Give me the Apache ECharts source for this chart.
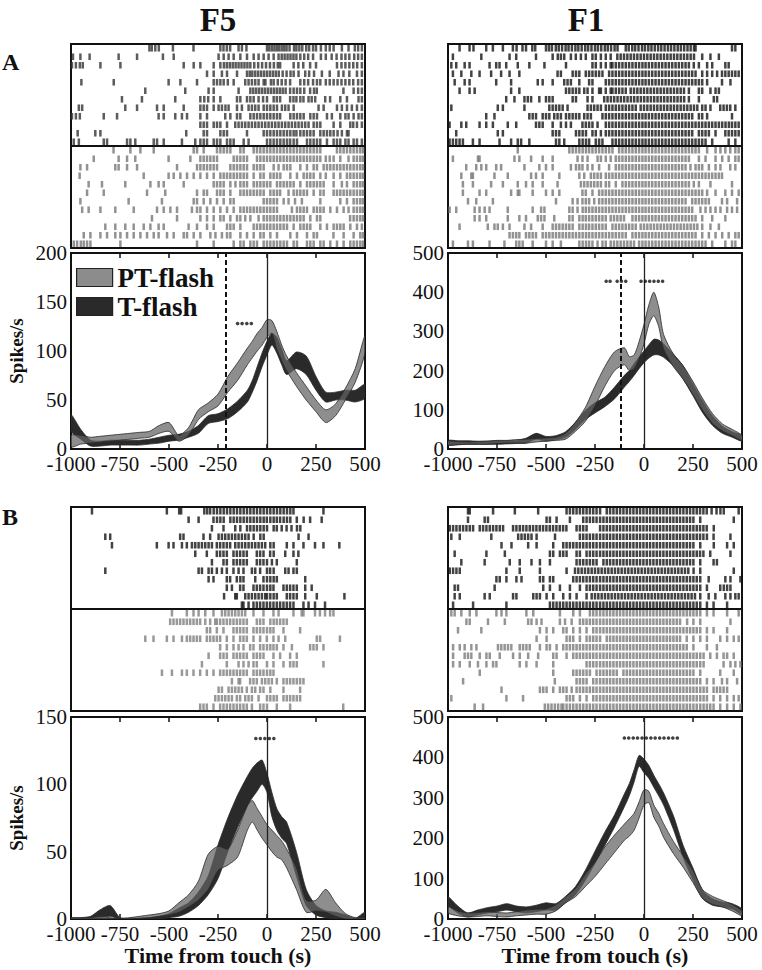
<!DOCTYPE html>
<html><head><meta charset="utf-8">
<script src="https://cdn.jsdelivr.net/npm/echarts@6/dist/echarts.min.js"></script>
<style>html,body{margin:0;padding:0;background:#fff}#c{width:762px;height:970px}</style>
</head><body><div id="c"></div>
<script>
// ---------- DATA ----------
const xTicks = [-1000, -750, -500, -250, 0, 250, 500];
const timeGrid = [-1000,-950,-900,-850,-800,-750,-700,-650,-600,-550,-500,-450,-400,-350,-300,-250,-200,-150,-100,-75,-50,-25,0,25,50,75,100,150,200,250,300,350,400,450,500];

// PSTH bands (lower / upper edge, spikes/s)
const F5A_PT_lo = [2,5,6,7,8,9,10,11,12,16,18,8,14,30,38,44,58,70,86,93,100,106,114,118,102,90,80,64,50,38,27,34,50,68,98];
const F5A_PT_hi = [14,14,12,13,14,15,16,17,18,24,27,14,22,40,47,56,74,88,103,110,118,124,132,131,120,106,95,78,64,50,40,46,62,82,116];
const F5A_T_lo  = [18,10,3,3,4,4,4,4,5,6,8,9,12,16,26,28,31,38,48,58,70,84,96,106,98,86,76,82,76,60,48,50,50,48,52];
const F5A_T_hi  = [35,20,9,8,9,9,9,9,10,12,14,15,18,24,34,36,41,49,60,70,84,98,110,118,114,102,90,99,95,74,58,58,60,60,66];

const F1A_PT_lo = [10,11,12,12,12,14,15,15,15,18,20,22,25,45,70,110,160,200,215,200,205,230,268,318,340,312,255,210,178,138,98,65,46,34,22];
const F1A_PT_hi = [20,19,18,19,20,22,22,24,25,27,28,30,40,68,105,160,210,248,258,236,240,274,318,368,400,362,292,242,212,172,128,90,64,50,35];
const F1A_T_lo  = [10,11,12,12,12,12,13,14,15,25,20,24,30,50,75,92,108,128,158,172,188,205,220,232,240,240,234,212,178,136,92,60,40,30,20];
const F1A_T_hi  = [22,21,21,20,20,21,21,22,28,40,32,34,44,68,98,118,132,158,188,200,218,235,250,266,280,278,268,242,212,166,122,84,58,44,34];

const F5B_PT_lo = [0,0,0,0,0,0,0,0.5,1,2,3,5,9,14,22,36,40,46,66,72,66,60,55,50,46,44,38,22,5,6,5,2,0,0,0];
const F5B_PT_hi = [1,1,1,2,1,0.5,1,2,3,4,6,12,18,28,48,54,52,66,84,88,82,76,70,66,62,58,52,38,14,14,22,12,4,1,1];
const F5B_T_lo  = [0,0,0,1,2,0,0,0,0,0,1,2,5,10,18,30,50,68,84,90,95,100,94,76,66,60,56,32,10,3,1,0,0,0,0];
const F5B_T_hi  = [0.5,1,2,7,10,1,0.5,0.5,1,2,4,8,12,20,32,55,75,92,106,112,116,118,108,94,82,76,72,50,22,10,6,5,3,0.5,5];

const F1B_PT_lo = [15,8,5,6,8,6,5,8,10,12,12,20,40,55,80,105,135,165,195,205,220,250,282,288,252,230,202,162,128,90,50,36,30,20,8];
const F1B_PT_hi = [30,20,15,16,18,16,15,18,22,24,25,35,55,75,110,140,178,208,235,248,262,290,320,316,282,262,236,192,156,120,72,56,46,36,20];
const F1B_T_lo  = [35,15,5,10,15,18,22,18,15,18,22,22,40,60,95,138,182,228,278,305,340,378,362,348,326,305,282,222,152,96,50,34,30,25,12];
const F1B_T_hi  = [55,32,15,22,28,32,38,32,30,34,40,38,56,80,120,168,215,258,310,335,370,405,396,380,356,335,312,256,182,126,70,50,42,38,25];

// significance markers (times, ms) and their height
const sigF5A_t = [-150,-127,-103,-80];            const sigF5A_y = 128;
const sigF1A_t = [-193,-173,-137,-115,-93,-15,7,29,51,73,95]; const sigF1A_y = 428;
const sigF5B_t = [-57,-34,-11,12,35];             const sigF5B_y = 134;
const sigF1B_t = [-100,-78,-55,-33,-10,12,35,57,80,102,125,147,170]; const sigF1B_y = 448;
const dashF5A = -208;
const dashF1A = -118;

// rasters: spike times (ms) per trial; T-flash (top block) and PT-flash (bottom block)
const rasterF5A_T = [
[-600,-588,-570,-552,-480,-375,-238,-222,-205,-188,-145,-128,-105,0,12,25,38,50,62,75,88,100,115,138,150,165,180,200,215,235,250,275,300,320,340,382,416,448,465,484],
[-990,-952,-905,-757,-663,-531,-476,-247,-221,-196,-170,-136,-102,-68,-43,-17,8,34,59,75,90,105,120,135,150,170,190,210,235,275,300,330,355,380,400,420,445,465,484],
[-995,-975,-955,-940,-850,-748,-425,-374,-340,-272,-238,-220,-205,-190,-175,-160,-145,-130,-115,-100,-85,-65,-45,-25,-5,15,35,55,67,136,160,185,220,250,357,380,400,420,440,460,484],
[-306,-272,-230,-204,-153,-102,-88,-75,-60,-45,-30,-15,0,15,30,45,60,80,100,120,136,161,195,215,240,280,320,365,390,420,459,484],
[-947,-782,-502,-442,-357,-272,-255,-238,-221,-200,-170,-111,-94,-77,-60,-43,-17,-8,20,34,55,75,95,118,170,190,210,235,255,272,300,320,340,360,380,400,420,440,465,484],
[-621,-417,-298,-272,-145,-85,-70,-55,-40,-25,-10,5,20,35,50,65,80,95,118,136,153,170,190,220,240,254,390,442,465,484],
[-740,-638,-468,-340,-320,-300,-272,-238,-153,-136,-102,-85,-68,-43,-20,0,34,50,67,118,135,150,170,186,212,228,246,297,322,374,408,467,484],
[-960,-943,-723,-663,-561,-527,-425,-340,-323,-306,-272,-247,-230,-212,-196,-153,-128,-94,-77,-60,-43,-17,0,17,34,51,76,93,110,136,263,289,357,382,408,433,459,484],
[-995,-975,-955,-833,-765,-553,-527,-468,-434,-408,-340,-306,-213,-187,-153,-136,-85,-68,-51,-34,-17,0,17,34,51,67,119,136,153,170,187,221,238,255,306,331,374,400,416,442,467,484],
[-340,-323,-306,-272,-255,-238,-204,-162,-145,-128,-111,-94,-77,-60,-43,-26,-9,8,25,42,59,76,93,110,127,144,161,178,195,212,238,255,272,340,374,425,440,459,484],
[-966,-876,-850,-412,-323,-306,-238,-221,-204,-102,-17,0,17,34,51,68,85,102,119,136,150,170,187,204,221,238,272,289,306,323,340,360,382,408,416],
[-986,-960,-833,-816,-714,-697,-672,-578,-561,-527,-434,-366,-340,-323,-306,-272,-255,-238,-204,-187,-170,-119,-94,0,17,34,51,68,85,102,118,136,153,204,221,238,255,272,306,340,357,374,400,416,442,459,484]
];
const rasterF5A_PT = [
[-783,-697,-646,-578,-374,-357,-323,-255,-238,-221,-204,-187,-136,-119,-68,-51,-34,-17,0,17,34,51,68,85,102,119,136,153,170,187,204,221,238,255,272,357,374,391,408,425,442,459,476,490],
[-884,-757,-714,-672,-502,-391,-340,-323,-306,-289,-272,-255,-170,-153,-136,-119,-102,-51,-34,-17,0,17,34,51,68,85,102,119,136,153,170,187,204,221,238,255,272,300,320,340,374,416,442,459,476,490],
[-952,-918,-774,-757,-714,-663,-459,-357,-340,-323,-306,-289,-272,-255,-187,-170,-153,-136,-119,-102,-68,-51,-34,-17,34,59,85,102,119,170,204,238,255,289,306,323,340,357,374,391,408,425,442,459,476,490],
[-956,-629,-502,-476,-442,-408,-374,-340,-306,-272,-238,-221,-204,-187,-170,-153,-136,-119,-102,-68,-34,-17,17,34,51,68,119,153,187,204,221,238,272,300,340,374,408,425,442,459,476,490],
[-910,-842,-723,-595,-553,-527,-425,-272,-255,-238,-221,-187,-161,-136,-119,-102,-68,-51,-34,-17,0,17,51,68,85,102,119,136,170,204,221,238,255,272,289,340,382,408,442,459,476,490],
[-918,-833,-612,-519,-357,-323,-306,-255,-238,-221,-187,-136,-119,-102,-85,-68,-51,-34,-17,17,34,51,67,110,136,153,170,187,204,238,272,289,340,357,374,391,408,425,442,459,476,490],
[-952,-706,-536,-374,-357,-323,-289,-255,-221,-187,-170,-17,0,17,34,51,85,110,143,178,272,374,408,442,459,476,490],
[-943,-910,-850,-774,-680,-561,-527,-493,-459,-383,-357,-340,-306,-272,-238,-204,-170,-136,-119,-102,-85,-68,-51,-34,-17,0,17,34,51,127,153,170,187,204,238,255,272,289,323,357,391,416,442,459,476,490],
[-587,-459,-340,-306,-272,-238,-221,-187,-153,-136,-111,-85,-43,-17,0,17,34,51,68,85,102,119,136,153,170,187,221,255,272,424,442,459,476,490],
[-825,-774,-723,-680,-629,-595,-553,-527,-400,-357,-306,-272,-204,-187,-170,-136,-68,-51,-34,-17,0,17,34,51,68,85,102,136,170,187,204,221,272,306,340,357,374,391,425,459,484],
[-935,-901,-850,-816,-774,-748,-714,-680,-646,-612,-578,-553,-510,-476,-425,-408,-374,-340,-289,-263,-230,-204,-187,-136,-102,-68,-34,-17,17,51,119,153,204,238,255,339,391,442,476,490],
[-986,-969,-950,-935,-918,-901,-748,-357,-272,-170,-136,-119,-85,-68,-51,-17,0,17,34,51,68,85,102,136,153,204,221,238,272,289,323,357,391,425,442,459,476,490]
];
const rasterF1A_T = [
[-941,-890,-870,-805,-771,-720,-669,-650,-620,-602,-570,-555,-500,-485,-470,-450,-435,-418,-400,-385,-368,-350,-335,-318,-300,-285,-268,-250,-235,-218,-200,-185,-168,-150,-135,-93,-78,-60,-45,-28,-10,5,22,38,55,72,88,105,122,138,155,172,188,205,222,238,255,263,449,466],
[-975,-830,-686,-652,-551,-466,-440,-424,-407,-373,-348,-322,-297,-263,-246,-220,-195,-170,-136,-119,-102,-85,-68,-51,-34,-17,0,17,34,51,68,85,102,119,136,153,170,187,204,221,238,255,297,339,382],
[-983,-958,-915,-890,-788,-754,-737,-703,-644,-585,-508,-398,-263,-246,-220,-195,-170,-161,-144,-127,-110,-93,-76,-59,-42,-25,-8,8,25,42,59,76,93,110,127,144,161,178,195,212,229,254,280,322,348,415,432],
[-975,-932,-881,-839,-780,-729,-686,-636,-441,-424,-364,-347,-330,-297,-280,-263,-246,-229,-212,-178,-161,-144,-127,-110,-93,-76,-59,-42,-25,-8,8,25,42,59,76,93,110,127,144,161,178,195,212,229,246,263,297,322,348,373,398,415,432,449,466,483],
[-966,-915,-890,-754,-678,-542,-517,-466,-407,-390,-373,-330,-280,-263,-195,-178,-161,-144,-127,-110,-93,-76,-59,-42,-25,-8,8,25,42,59,76,93,110,127,144,161,178,195,212,229,246,263,280,297,322,398,441],
[-941,-890,-864,-678,-636,-398,-381,-364,-347,-330,-305,-288,-263,-229,-220,-195,-170,-161,-144,-127,-110,-93,-68,-51,-34,-17,0,17,34,51,68,85,102,119,136,153,170,187,204,229,280,297,339,365,382],
[-703,-661,-610,-593,-576,-534,-500,-483,-466,-364,-347,-288,-263,-203,-186,-169,-152,-135,-118,-101,-84,-67,-50,-33,-16,1,18,35,52,69,86,103,120,137,154,171,188,205,229,280,356,373],
[-983,-746,-720,-610,-483,-466,-449,-432,-415,-390,-288,-271,-254,-237,-220,-195,-178,-161,-144,-127,-110,-93,-76,-59,-42,-17,0,17,34,51,68,85,102,119,136,153,170,187,204,221,238,255,272,297,314,339,389,406,423,440,466],
[-805,-763,-585,-568,-551,-517,-500,-483,-458,-441,-424,-398,-381,-364,-347,-330,-305,-288,-271,-212,-195,-178,-161,-144,-127,-110,-93,-76,-59,-42,-25,-8,8,25,42,59,76,93,110,127,144,161,178,195,212,229,246,280,297,322,449],
[-992,-932,-907,-839,-805,-771,-695,-652,-551,-534,-517,-466,-424,-398,-373,-314,-297,-280,-263,-237,-195,-178,-161,-144,-127,-110,-93,-76,-59,-42,-25,-8,8,25,42,59,76,93,110,127,144,161,178,195,212,229,246,263,280,297,314,331,348,365,382,399,416,433,449,466,483],
[-958,-746,-720,-466,-449,-432,-347,-330,-313,-296,-263,-246,-220,-195,-178,-161,-144,-127,-110,-93,-76,-59,-42,-25,-8,8,25,42,59,76,93,110,127,144,161,178,195,212,229,246,280,297,314,331,365,415,432,449,466,483],
[-992,-975,-958,-941,-924,-873,-839,-737,-678,-644,-627,-585,-449,-432,-407,-330,-313,-296,-280,-246,-229,-212,-161,-144,-127,-110,-93,-76,-59,-42,-25,-8,8,25,42,59,76,93,110,127,144,161,178,195,212,229,246,263,280,297,314,348,432,466]
];
const rasterF1A_PT = [
[-644,-381,-364,-347,-330,-313,-296,-280,-263,-246,-229,-212,-195,-178,-161,-127,-110,-93,-76,-59,-42,-25,-8,8,25,42,59,76,93,110,127,144,161,178,195,212,229,246,263,280,322,365,390,415,440,466,483],
[-975,-847,-839,-661,-636,-576,-517,-466,-339,-314,-288,-237,-220,-195,-170,-144,-127,-110,-93,-76,-59,-42,-25,-8,8,25,42,59,76,93,110,127,144,161,178,195,212,229,280,314,365,399,432,466,483],
[-907,-856,-830,-805,-754,-729,-610,-534,-500,-466,-373,-347,-330,-314,-288,-263,-229,-178,-144,-127,-110,-93,-76,-59,-42,-25,-8,8,25,42,59,76,93,110,127,144,161,178,195,212,237,263,280,297,331,365,390,440,466],
[-932,-881,-873,-763,-695,-576,-551,-517,-432,-330,-305,-271,-254,-237,-220,-195,-178,-161,-144,-127,-110,-93,-76,-59,-42,-25,-8,8,25,42,59,76,93,110,127,144,161,178,195,212,229,246,263,280,297,314,331,348,365,382,398],
[-924,-873,-780,-720,-644,-602,-568,-517,-441,-322,-305,-288,-271,-254,-237,-220,-195,-178,-144,-110,-93,-76,-59,-42,-25,-8,8,25,42,59,76,93,110,127,144,161,178,195,212,229,254,280,339,449],
[-924,-839,-805,-678,-644,-636,-568,-500,-466,-432,-314,-297,-263,-229,-212,-195,-178,-161,-144,-127,-110,-93,-76,-59,-42,-25,-8,8,25,42,59,76,93,110,127,144,161,178,195,212,229,246,263,280,297,322,365,415,449,483],
[-898,-856,-771,-449,-364,-339,-314,-297,-280,-254,-229,-212,-195,-178,-161,-144,-127,-110,-93,-76,-59,-42,-25,-8,8,25,42,59,76,93,110,127,144,161,178,195,212,246,263,280,297,314,331,398,424,475],
[-992,-958,-864,-839,-813,-788,-695,-568,-525,-508,-381,-364,-339,-313,-297,-280,-263,-246,-229,-212,-195,-178,-161,-144,-127,-110,-93,-76,-59,-42,-25,-8,8,25,42,59,76,93,110,127,144,161,178,195,212,229,246,288,314,339,365,390,424,449,475],
[-864,-839,-805,-695,-636,-602,-542,-525,-508,-458,-381,-364,-330,-313,-297,-280,-263,-246,-229,-212,-195,-170,-153,-136,-119,-102,-59,-42,-25,-8,8,25,42,59,76,93,110,127,144,161,178,195,212,229,246,263,297,348,415],
[-941,-797,-763,-746,-720,-686,-610,-576,-517,-466,-449,-432,-415,-398,-381,-364,-330,-313,-296,-280,-263,-246,-229,-212,-195,-161,-144,-127,-110,-93,-76,-59,-42,-17,0,17,34,51,68,85,102,119,136,153,170,187,204,221,238,255,272,297,339,382],
[-686,-669,-652,-636,-602,-585,-568,-551,-517,-500,-483,-466,-449,-432,-415,-398,-381,-364,-347,-330,-313,-296,-280,-263,-246,-229,-212,-195,-178,-161,-144,-127,-110,-93,-59,-42,-25,-8,8,25,42,59,76,93,110,127,144,161,178,195,212,229,246,263,297,331,365,399,432,466,483],
[-975,-898,-873,-788,-712,-652,-636,-619,-568,-500,-466,-424,-330,-313,-296,-280,-263,-237,-212,-195,-170,-153,-136,-119,-102,-85,-68,-51,-25,-8,8,25,42,59,76,93,110,127,144,161,178,195,212,229,246,263,280,297,314,348,415,449,466]
];
const rasterF5B_T = [
[-893,-511,-448,-438,-320,-305,-290,-272,-255,-238,-221,-204,-187,-170,-153,-136,-119,-102,-85,-68,-51,-34,-17,0,17,34,51,68,85,102,119,135,288],
[-400,-349,-273,-255,-238,-221,-187,-170,-153,-136,-119,-102,-85,-68,-51,-34,-17,-1,17,34,50,67,85,102,119,152,187,220,279],
[-281,-222,-162,-136,-102,-85,-68,-51,-34,-17,0,34,50,75,100,125,153,170],
[-825,-800,-443,-426,-324,-290,-247,-230,-213,-196,-179,-162,-145,-128,-111,-94,-68,-34,-17,161,212],
[-791,-562,-502,-477,-434,-409,-383,-366,-349,-332,-315,-298,-281,-256,-239,-222,-205,-188,-162,-145,-128,-111,-94,-77,-60,-43,-26,-9,17,34,101,135,186,245,288,369],
[-366,-307,-256,-239,-222,-205,-171,-154,-137,-120,-103,-52,-35,-18,16,34,93,135,160],
[-281,-222,-205,-171,-154,-137,-120,-103,-52,-35,-18,0,25,50,152],
[-825,-349,-332,-298,-281,-256,-230,-205,-171,-145,-120,-77,-60,-35,0,16,34,93,110,135,152],
[-298,-273,-205,-188,-154,-136,-120,-60,-18,0,17,34,50,195],
[-205,-179,-137,-120,-69,-52,-35,-18,0,17,33,84,101,118,135,152,195,228],
[-219,-162,-154,-111,-94,-77,-60,-43,-26,-9,0,17,34,50,101,118,135,152,195,254,395],
[-128,-120,-94,-69,-52,-35,-18,-1,16,33,50,67,84,101,118,135,186,212,245,296]
];
const rasterF5B_PT = [
[-485,-409,-375,-349,-315,-273,-230,-213,-196,-179,-162,-145,-128,-111,-69,-18,33,59,135,177,186,245,270,296,322,339],
[-494,-477,-460,-443,-426,-409,-392,-375,-358,-341,-315,-290,-264,-256,-239,-222,-205,-188,-171,-154,-137,-120,-103,-52,-35,-18,17,34,50,67,84,101],
[-307,-290,-256,-222,-171,-154,-137,-120,-103,-69,-52,-35,-18,0,17,33,84,169],
[-621,-579,-511,-477,-434,-409,-392,-375,-358,-341,-307,-290,-273,-256,-239,-205,-171,-137,-120,-103,-69,-35,-1,33,59,93,254,271,372],
[-239,-205,-171,-145,-120,-86,-69,-35,-18,0,17,33,50,84,127,220,237,254,288],
[-298,-239,-222,-205,-171,-154,-137,-120,-103,-69,-52,-35,-18,33,67,118,152],
[-332,-205,-145,-120,-94,-69,-52,0,33,84,118,135,152,288],
[-536,-485,-434,-409,-375,-341,-307,-273,-239,-222,-205,-188,-171,-154,-137,-120,-103,-69,-52,-35,-18,0,17,33],
[-179,-145,-137,-86,-69,-52,-26,-9,8,25,50,84,101,118,135,152,169,186],
[-247,-230,-196,-179,-162,-145,-128,-103,-77,-60,-35,-18,17,84,169],
[-264,-247,-230,-213,-196,-179,-154,-137,-111,-94,-77,-43,0,17,34,50,84,101,118,135,152,169],
[-341,-324,-307,-273,-239,-222,-205,-188,-171,-154,-137,-120,-103,-77,-35,-18,0,50,118,389]
];
const rasterF1B_T = [
[-898,-889,-770,-659,-540,-395,-378,-361,-344,-327,-310,-293,-276,-259,-242,-224,-190,-173,-156,-139,-122,-105,-88,-71,-54,-37,-20,-3,14,31,48,65,82,99,116,133,150,167,184,201,218,235,252,269,286,303,320,345,370,390,407,483],
[-898,-813,-796,-497,-480,-446,-378,-310,-293,-276,-259,-242,-224,-207,-190,-173,-156,-139,-122,-105,-88,-71,-54,-37,-20,-3,14,31,48,65,82,99,116,133,150,167,184,201,218,235,252,287,458],
[-991,-974,-957,-940,-923,-906,-889,-872,-838,-821,-804,-787,-770,-753,-736,-719,-668,-651,-634,-617,-600,-583,-566,-549,-532,-515,-498,-481,-464,-447,-430,-413,-396,-344,-327,-310,-293,-224,-207,-190,-173,-156,-139,-122,-105,-88,-71,-54,-37,-20,-3,14,31,48,65,82,99,116,133,150,167,184,201,218,235,252,269,286,303,320,356],
[-983,-940,-779,-642,-625,-608,-591,-574,-548,-454,-327,-310,-293,-276,-259,-242,-224,-207,-190,-173,-156,-139,-122,-105,-88,-71,-54,-37,-20,-3,14,31,48,65,82,99,116,133,150,167,184,201,218,235,252,269,286,303,321,355,441],
[-727,-676,-591,-548,-463,-412,-395,-378,-361,-344,-327,-310,-293,-276,-259,-242,-224,-207,-190,-173,-156,-139,-122,-105,-88,-71,-54,-37,-20,-3,14,31,48,65,82,99,116,133,150,167,184,201,218,235,252,287,356,424,458],
[-966,-804,-710,-480,-463,-429,-412,-395,-344,-327,-293,-276,-259,-242,-224,-207,-190,-173,-156,-139,-122,-105,-88,-71,-54,-37,-20,-3,14,31,48,65,82,99,116,133,150,167,184,201,218,235,252,269,286,303,338,441],
[-932,-813,-685,-634,-574,-531,-480,-344,-327,-310,-293,-276,-259,-242,-207,-190,-173,-156,-139,-122,-105,-88,-71,-54,-37,-20,-3,14,31,48,65,82,99,116,133,150,167,184,201,218,235,252,287,355,372],
[-991,-974,-957,-940,-702,-634,-531,-395,-352,-335,-318,-301,-284,-267,-250,-233,-216,-199,-182,-165,-148,-131,-114,-97,-80,-63,-46,-29,-12,5,22,39,56,73,90,107,124,141,158,175,192,209,226,253,287,458],
[-753,-736,-702,-651,-625,-531,-514,-480,-463,-361,-344,-327,-310,-293,-276,-259,-242,-224,-207,-190,-173,-156,-139,-122,-105,-88,-71,-54,-37,-20,-3,14,31,48,65,82,99,116,133,150,167,184,201,218,235,252,269,287,330,415,441,492],
[-966,-949,-762,-514,-480,-429,-378,-327,-293,-276,-259,-242,-224,-207,-190,-173,-156,-139,-122,-105,-88,-71,-54,-37,-20,-3,14,31,48,65,82,99,116,133,150,167,184,201,218,235,252,269,287,321,389,407,424,441],
[-966,-940,-813,-787,-668,-651,-565,-548,-531,-497,-463,-412,-378,-344,-293,-267,-250,-233,-216,-199,-182,-165,-148,-131,-114,-97,-80,-63,-46,-29,-12,5,22,39,56,73,90,107,124,141,158,175,192,209,226,243,260,287,330,364,415,441,466,483],
[-974,-872,-702,-480,-463,-446,-429,-412,-395,-378,-361,-344,-327,-310,-293,-276,-259,-242,-224,-207,-190,-173,-156,-139,-122,-105,-88,-71,-54,-37,-20,-3,14,31,48,65,82,99,116,133,150,167,184,201,218,235,252,269,287,321,355,424]
];
const rasterF1B_PT = [
[-983,-966,-932,-889,-855,-753,-727,-702,-600,-565,-429,-361,-327,-276,-259,-242,-224,-207,-190,-173,-156,-139,-122,-105,-88,-71,-54,-37,-20,-3,14,31,48,65,82,99,116,133,150,167,184,201,218,235,252,269,287,321,355,424,483],
[-906,-889,-796,-710,-591,-574,-548,-523,-429,-403,-369,-327,-310,-293,-276,-259,-242,-224,-207,-190,-173,-156,-139,-122,-105,-88,-71,-54,-37,-20,-3,14,31,48,65,82,99,116,133,150,167,184,220,252,287,441],
[-949,-830,-531,-497,-463,-412,-395,-361,-327,-293,-259,-242,-224,-207,-190,-173,-156,-139,-122,-105,-88,-71,-54,-37,-20,-3,14,31,48,65,82,99,116,133,150,167,184,201,218,235,252,269,287,321,355,424],
[-548,-497,-395,-378,-361,-327,-293,-276,-259,-242,-224,-190,-173,-156,-139,-122,-105,-88,-71,-54,-37,-20,-3,14,31,48,65,82,99,116,133,150,167,184,218,252,287,321,389,424,458,483],
[-974,-940,-915,-881,-855,-745,-728,-711,-694,-677,-634,-617,-600,-583,-531,-497,-480,-446,-412,-395,-378,-361,-344,-327,-310,-293,-276,-259,-242,-224,-207,-190,-173,-156,-139,-122,-105,-88,-71,-54,-37,-20,-3,14,31,48,65,82,99,116,133,150,167,184,201,218,252,321,372],
[-974,-915,-898,-881,-838,-804,-787,-736,-668,-634,-591,-540,-463,-446,-395,-361,-344,-327,-310,-293,-276,-259,-242,-224,-207,-190,-173,-156,-139,-122,-105,-88,-71,-54,-37,-20,-3,14,31,48,65,82,99,116,133,150,167,184,201,218,235,252,269,287,304,338,372,406,424,458],
[-974,-940,-889,-847,-804,-770,-753,-634,-600,-548,-463,-293,-276,-259,-242,-224,-207,-190,-173,-156,-139,-122,-105,-88,-71,-54,-37,-20,-3,14,31,48,65,82,99,116,133,150,167,184,201,218,235,252,269,287,304,406,441,466,492],
[-838,-463,-361,-344,-327,-310,-293,-276,-242,-224,-207,-190,-173,-156,-139,-105,-88,-71,-54,-37,-20,-3,14,31,48,65,82,99,116,133,150,167,184,201,218,235,252,287,389,458],
[-923,-455,-344,-327,-310,-293,-259,-242,-224,-207,-190,-173,-156,-139,-122,-105,-88,-71,-54,-37,-20,-3,14,31,48,65,82,99,116,133,150,167,184,201,218,235,252,269,287,321,355,398,424,475],
[-727,-531,-514,-497,-463,-429,-412,-395,-369,-344,-327,-310,-293,-276,-259,-242,-224,-207,-190,-173,-156,-139,-122,-105,-88,-71,-54,-37,-20,-3,14,31,48,65,82,99,116,133,150,167,184,201,218,235,252,269,287,304,321,355,372,389,406,424],
[-983,-702,-617,-395,-378,-361,-327,-293,-259,-242,-224,-207,-190,-173,-156,-139,-122,-105,-88,-71,-54,-37,-20,-3,14,31,48,65,82,99,116,133,150,167,184,201,218,235,252,269,287,304,321,355,389,424,458,483],
[-864,-821,-506,-489,-472,-455,-438,-421,-412,-395,-378,-361,-344,-327,-310,-293,-276,-259,-242,-224,-207,-190,-173,-156,-139,-122,-105,-88,-71,-54,-37,-20,-3,14,31,48,65,82,99,116,133,150,167,184,201,218,235,252,269,287,304,321,338,355,389,424,458,492]
];

// ---------- LAYOUT / STYLE ----------
const FONT = "'Liberation Serif', 'Times New Roman', serif";
const INK = '#111';
const PLOT_W = 294, RASTER_H = 102;
const panels = [
  {x:71,  rTop:44,  pTop:253, pH:196, ymax:200, yint:50,  T:rasterF5A_T, PT:rasterF5A_PT, tCol:'#333', ptCol:'#777',
   bands:[F5A_T_lo,F5A_T_hi,F5A_PT_lo,F5A_PT_hi], sigT:sigF5A_t, sigY:sigF5A_y, dash:dashF5A, yName:true,  xName:false},
  {x:448, rTop:44,  pTop:253, pH:196, ymax:500, yint:100, T:rasterF1A_T, PT:rasterF1A_PT, tCol:'#141414', ptCol:'#777',
   bands:[F1A_T_lo,F1A_T_hi,F1A_PT_lo,F1A_PT_hi], sigT:sigF1A_t, sigY:sigF1A_y, dash:dashF1A, yName:false, xName:false},
  {x:71,  rTop:507, pTop:717, pH:202, ymax:150, yint:50,  T:rasterF5B_T, PT:rasterF5B_PT, tCol:'#141414', ptCol:'#808080',
   bands:[F5B_T_lo,F5B_T_hi,F5B_PT_lo,F5B_PT_hi], sigT:sigF5B_t, sigY:sigF5B_y, dash:null, yName:true,  xName:true},
  {x:448, rTop:507, pTop:717, pH:202, ymax:500, yint:100, T:rasterF1B_T, PT:rasterF1B_PT, tCol:'#141414', ptCol:'#7a7a7a',
   bands:[F1B_T_lo,F1B_T_hi,F1B_PT_lo,F1B_PT_hi], sigT:sigF1B_t, sigY:sigF1B_y, dash:null, yName:false, xName:true}
];

const grid = [], xAxis = [], yAxis = [], series = [];
function boxGrid(left, top, height){
  return {left, top, width: PLOT_W, height, show:true, borderColor:INK, borderWidth:2, backgroundColor:'transparent', containLabel:false};
}
function bandSeries(name, xi, yi, lo, hi, fill, legendColor){
  return {
    type:'custom', name, xAxisIndex:xi, yAxisIndex:yi, silent:true, z:3,
    itemStyle:{color:legendColor},
    data:[[timeGrid[0], lo[0]]],
    renderItem(params, api){
      const pts = [];
      for (let i = 0; i < timeGrid.length; i++) pts.push(api.coord([timeGrid[i], hi[i]]));
      for (let i = timeGrid.length - 1; i >= 0; i--) pts.push(api.coord([timeGrid[i], lo[i]]));
      const cs = params.coordSys;
      return {type:'polygon', shape:{points:pts, smooth:0.25},
        style:{fill, stroke:'#2a2a2a', lineWidth:0.8},
        clipPath:{type:'rect', shape:{x:cs.x, y:cs.y, width:cs.width, height:cs.height}}};
    }
  };
}
const plainLabel = v => String(v);

panels.forEach((p, pi) => {
  const g0 = grid.length;
  grid.push(boxGrid(p.x, p.rTop, RASTER_H));
  grid.push(boxGrid(p.x, p.rTop + RASTER_H, RASTER_H));
  grid.push(boxGrid(p.x, p.pTop, p.pH));
  // raster blocks
  [[p.T, p.tCol], [p.PT, p.ptCol]].forEach(([trials, col], k) => {
    const xi = xAxis.length, yi = yAxis.length;
    xAxis.push({gridIndex:g0+k, type:'value', min:-1000, max:500, show:false});
    yAxis.push({gridIndex:g0+k, type:'value', min:-0.5, max:trials.length - 0.5, inverse:true, show:false});
    series.push({type:'scatter', xAxisIndex:xi, yAxisIndex:yi, silent:true, symbol:'rect', symbolSize:[2.5, 6.6],
      itemStyle:{color:col}, data: trials.flatMap((tr, r) => tr.map(t => [t, r]))});
  });
  // PSTH axes
  const xi = xAxis.length, yi = yAxis.length;
  xAxis.push({gridIndex:g0+2, type:'value', min:xTicks[0], max:xTicks[xTicks.length-1], interval:250, position:'bottom',
    axisLine:{show:false}, splitLine:{show:false},
    axisTick:{show:true, inside:true, length:5, lineStyle:{color:INK, width:1.5}},
    axisLabel:{fontFamily:FONT, fontSize:21, color:INK, margin:4, showMinLabel:true, showMaxLabel:true, formatter:plainLabel},
    name: p.xName ? 'Time from touch (s)' : '', nameLocation:'middle', nameGap:22,
    nameTextStyle:{fontFamily:FONT, fontSize:22, fontWeight:'bold', color:INK}});
  xAxis.push({gridIndex:g0+2, type:'value', min:xTicks[0], max:xTicks[xTicks.length-1], interval:250, position:'top',
    axisLine:{show:false}, splitLine:{show:false}, axisLabel:{show:false},
    axisTick:{show:true, inside:true, length:5, lineStyle:{color:INK, width:1.5}}});
  yAxis.push({gridIndex:g0+2, type:'value', min:0, max:p.ymax, interval:p.yint,
    axisLine:{show:false}, splitLine:{show:false}, axisTick:{show:false},
    axisLabel:{fontFamily:FONT, fontSize:21, color:INK, margin:4, formatter:plainLabel},
    name: p.yName ? 'Spikes/s' : '', nameLocation:'middle', nameGap:45,
    nameTextStyle:{fontFamily:FONT, fontSize:19, fontWeight:'bold', color:INK}});
  // bands: T-flash underneath, PT-flash on top (semi-transparent)
  series.push(bandSeries('T-flash', xi, yi, p.bands[0], p.bands[1], '#2a2a2a', '#2a2a2a'));
  series.push(bandSeries('PT-flash', xi, yi, p.bands[2], p.bands[3], 'rgba(98,98,98,0.72)', '#8c8c8c'));
  // significance dots + reference lines
  const mlData = [{xAxis:0, lineStyle:{type:'solid', color:'#222', width:1.3}}];
  if (p.dash !== null) mlData.push({xAxis:p.dash, lineStyle:{type:[5,3], color:INK, width:2}});
  series.push({type:'scatter', xAxisIndex:xi, yAxisIndex:yi, silent:true, z:5, symbol:'circle', symbolSize:3.6,
    itemStyle:{color:INK}, data: p.sigT.map(t => [t, p.sigY]),
    markLine:{silent:true, symbol:['none','none'], label:{show:false}, animation:false, data:mlData}});
});

const option = {
  animation:false,
  backgroundColor:'#fff',
  textStyle:{fontFamily:FONT},
  grid, xAxis, yAxis, series,
  legend:{data:['PT-flash','T-flash'], left:76, top:264, orient:'vertical', icon:'rect', padding:0,
    itemWidth:36, itemHeight:18, itemGap:2, selectedMode:false,
    itemStyle:{borderColor:'#222', borderWidth:1.2},
    textStyle:{fontFamily:FONT, fontSize:27, fontWeight:'bold', color:INK, lineHeight:27}},
  graphic:[
    {type:'text', x:218, y:20, style:{text:'F5', font:"bold 33px 'Liberation Serif', serif", fill:INK, align:'center', verticalAlign:'middle'}},
    {type:'text', x:586, y:20, style:{text:'F1', font:"bold 33px 'Liberation Serif', serif", fill:INK, align:'center', verticalAlign:'middle'}},
    {type:'text', x:2, y:62, style:{text:'A', font:"bold 24px 'Liberation Serif', serif", fill:INK, align:'left', verticalAlign:'middle'}},
    {type:'text', x:2, y:517, style:{text:'B', font:"bold 24px 'Liberation Serif', serif", fill:INK, align:'left', verticalAlign:'middle'}}
  ]
};
const chart = echarts.init(document.getElementById('c'), null, {renderer:'svg', width:762, height:970});
chart.setOption(option);
</script>
</body></html>
